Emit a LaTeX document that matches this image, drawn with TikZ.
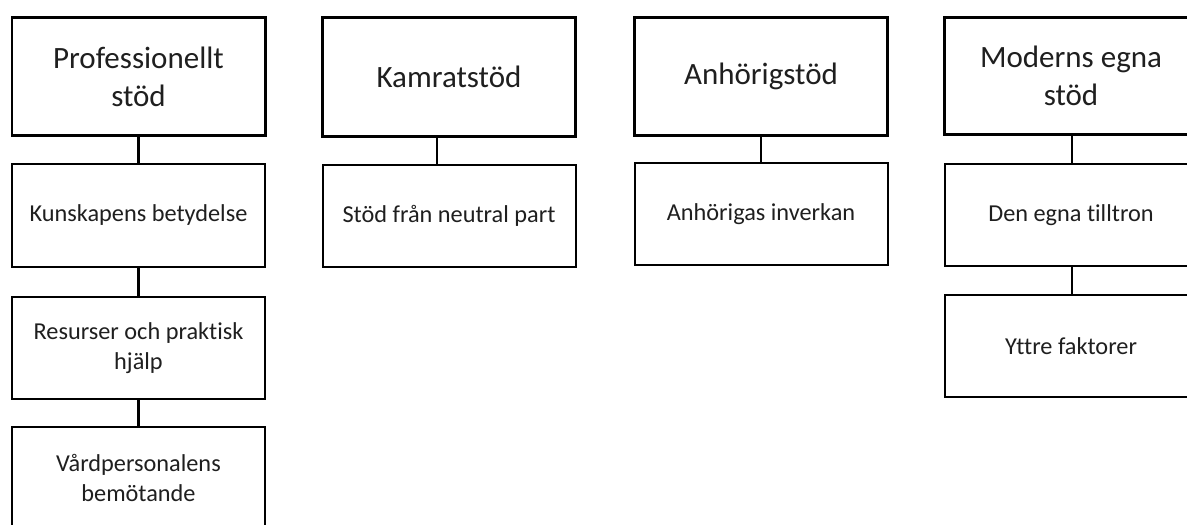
\documentclass[tikz,border=0pt]{standalone}
\usepackage{fontspec}
\setmainfont{Carlito}[Ligatures=NoCommon]
\tikzset{
  topbox/.style={draw=black, line width=2.8pt, rectangle, inner sep=0pt,
    minimum width=253.2pt, minimum height=118.2pt, align=center,
    text=black!88, font=\fontsize{31}{38}\selectfont},
  subbox/.style={draw=black, line width=2pt, rectangle, inner sep=0pt,
    minimum width=253pt, minimum height=102pt, align=center,
    text=black!88, font=\fontsize{24.3}{29.3}\selectfont},
  conn/.style={draw=black, line width=2.8pt}
}
\begin{document}
\begin{tikzpicture}[x=1pt,y=-1pt]
\useasboundingbox (0,0) rectangle (1187,525);
\clip (0,0) rectangle (1187,525);
\fill[white] (0,0) rectangle (1187,525);
% column 1
\node[topbox] (t1) at (138.5,76.5) {Professionellt\\stöd};
\node[subbox, minimum height=103pt] (a1) at (138.5,215.5) {Kunskapens betydelse};
\node[subbox] (a2) at (138.5,348) {Resurser och praktisk\\hjälp};
\node[subbox] (a3) at (138.5,478) {Vårdpersonalens\\bemötande};
% column 2
\node[topbox, minimum height=119.2pt] (t2) at (449,77) {Kamratstöd};
\node[subbox] (b1) at (449,216) {Stöd från neutral part};
% column 3
\node[topbox] (t3) at (761,76.5) {Anhörigstöd};
\node[subbox] (c1) at (761,214) {Anhörigas inverkan};
% column 4
\node[topbox, minimum height=117.2pt] (t4) at (1071,76) {Moderns egna\\stöd};
\node[subbox] (d1) at (1071,215) {Den egna tilltron};
\node[subbox] (d2) at (1071,346) {Yttre faktorer};
% connectors
\draw[conn] (t1.south) -- (a1.north);
\draw[conn] (a1.south) -- (a2.north);
\draw[conn] (a2.south) -- (a3.north);
\draw[conn] ([xshift=-12pt]t2.south) -- ([xshift=-12pt]b1.north);
\draw[conn] (t3.south) -- (c1.north);
\draw[conn] ([xshift=1pt]t4.south) -- ([xshift=1pt]d1.north);
\draw[conn] ([xshift=1pt]d1.south) -- ([xshift=1pt]d2.north);
\end{tikzpicture}
\end{document}
